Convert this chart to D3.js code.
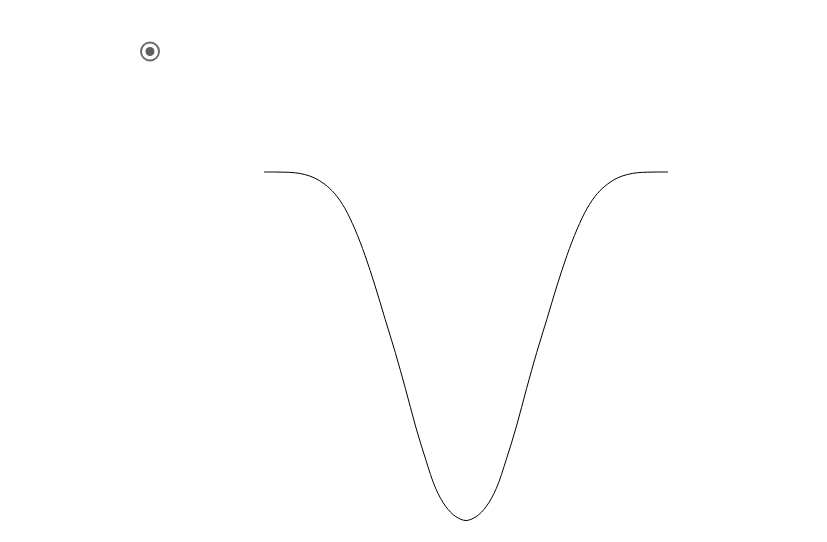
<!DOCTYPE html>
<html>
<head>
<meta charset="utf-8">
<script src="https://cdn.jsdelivr.net/npm/d3@7"></script>
<style>
  html, body { margin: 0; padding: 0; background: #fff; }
  svg { display: block; }
</style>
</head>
<body>
<script>
// Data: symmetric bell-shaped dip, x in [-1, 1], depth in [0, 1]
const xValues = [-1, -0.95, -0.9, -0.85, -0.8, -0.75, -0.7, -0.65, -0.6, -0.55, -0.5,
  -0.45, -0.4, -0.35, -0.3, -0.25, -0.2, -0.15, -0.1, -0.05, 0,
  0.05, 0.1, 0.15, 0.2, 0.25, 0.3, 0.35, 0.4, 0.45, 0.5,
  0.55, 0.6, 0.65, 0.7, 0.75, 0.8, 0.85, 0.9, 0.95, 1];
const halfDepth = [1.000, 0.989, 0.960, 0.908, 0.824, 0.729, 0.621, 0.518, 0.423, 0.327,
  0.239, 0.164, 0.104, 0.062, 0.035, 0.017, 0.007, 0.002, 0.0005, 0, 0];
// mirror to full series
const yValues = halfDepth.slice().reverse().concat(halfDepth.slice(1));

const W = 827, H = 542;
const svg = d3.select("body").append("svg").attr("width", W).attr("height", H);

const x = d3.scaleLinear().domain([-1, 1]).range([264, 668]);
const y = d3.scaleLinear().domain([0, 1]).range([172, 520.5]);

const data = xValues.map((v, i) => ({ x: v, y: yValues[i] }));

svg.append("path")
  .datum(data)
  .attr("fill", "none")
  .attr("stroke", "#000")
  .attr("stroke-width", 1)
  .attr("d", d3.line().x(d => x(d.x)).y(d => y(d.y)).curve(d3.curveCatmullRom.alpha(0.5)));

// radio-button style control
const radio = svg.append("g").attr("transform", "translate(150,51.5)");
radio.append("circle").attr("r", 9).attr("fill", "#fff")
  .attr("stroke", "#6b6b6b").attr("stroke-width", 2);
radio.append("circle").attr("r", 4.5).attr("fill", "#5f5f5f");
</script>
</body>
</html>
